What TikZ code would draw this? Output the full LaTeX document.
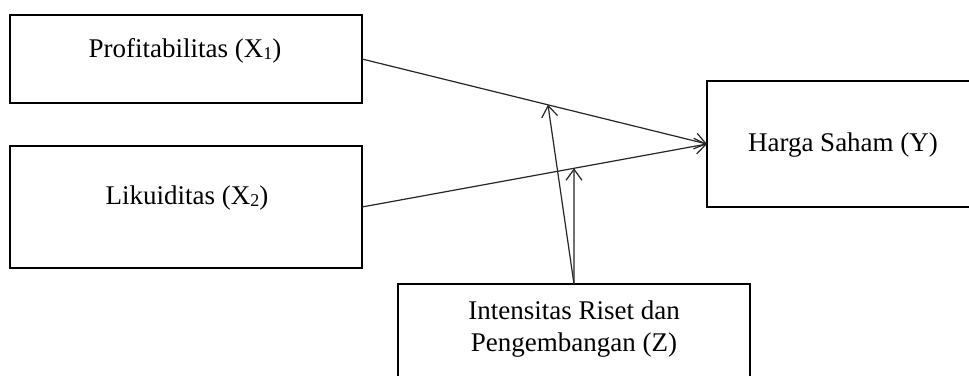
\documentclass[tikz,border=0pt]{standalone}
\usepackage{fontspec}
\setmainfont{Liberation Serif}
\usetikzlibrary{arrows.meta}
\newcommand{\mysub}[1]{\raisebox{-2pt}{\fontsize{18}{18}\selectfont #1}}
\begin{document}
\begin{tikzpicture}[x=1pt,y=-1pt,
  box/.style={draw=black,line width=2.4pt,rectangle,inner sep=0pt,outer sep=0pt},
  lbl/.style={inner sep=0pt,font=\fontsize{27}{32}\selectfont,align=center},
  conn/.style={draw=black!85,line width=1.2pt,-{Straight Barb[length=11pt,width=16pt,line width=1.2pt]}}]
\useasboundingbox (0,0) rectangle (969,375);
\clip (0,0) rectangle (969,375);
\fill[white] (0,0) rectangle (969,375);
% boxes
\node[box,minimum width=352pt,minimum height=88pt] (x1) at (186,59) {};
\node[box,minimum width=352pt,minimum height=122pt] (x2) at (186,207) {};
\node[box,minimum width=272pt,minimum height=126pt] (y) at (843,144) {};
\node[box,minimum width=352pt,minimum height=140pt] (z) at (574,354) {};
% labels
\node[lbl] (x1t) at (185,51) {Profitabilitas (X\mysub{1})};
\node[lbl] (x2t) at (187,198) {Likuiditas (X\mysub{2})};
\node[lbl] (yt) at (843,145) {Harga Saham (Y)};
\node[lbl] (zt) at (574,329) {Intensitas Riset dan\\Pengembangan (Z)};
% points on the paths
\path (x1.east) -- (y.west) coordinate[pos=0.539] (m1);
\path (x2.east) -- (y.west) coordinate[pos=0.6145] (m2);
% connectors
\draw[conn] (x1.east) -- (y.west);
\draw[conn] (x2.east) -- (y.west);
\draw[conn] (z.north) -- (m1);
\draw[conn] (z.north) -- (m2);
\end{tikzpicture}
\end{document}
